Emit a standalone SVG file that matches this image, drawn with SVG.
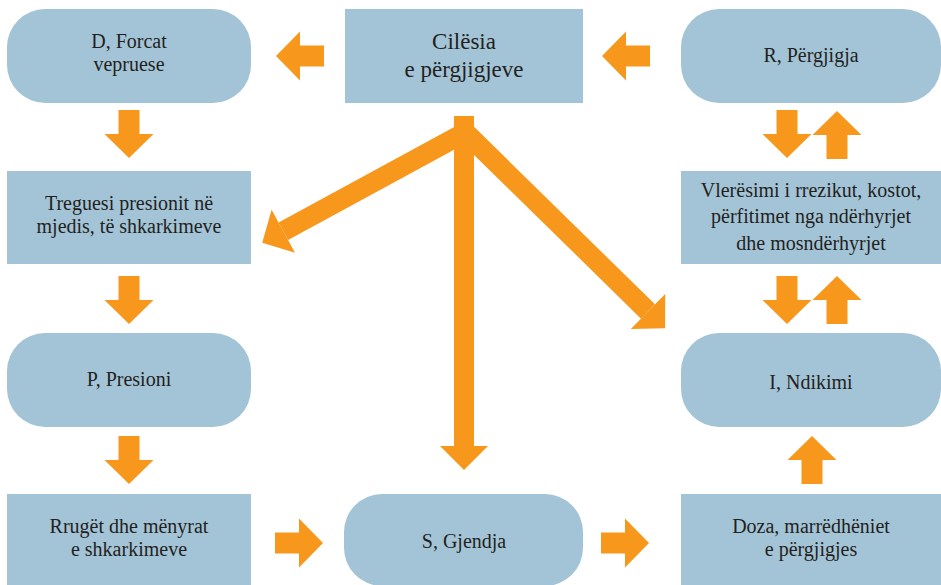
<svg xmlns="http://www.w3.org/2000/svg" width="941" height="585" viewBox="0 0 941 585">
<rect width="941" height="585" fill="#ffffff"/>
<g id="connectors" fill="#f7981d">
  <polygon points="324,45.5 300,45.5 300,31.5 276,56 300,80.5 300,66.5 324,66.5"/>
  <polygon points="650,45.5 626,45.5 626,31.5 602,56 626,80.5 626,66.5 650,66.5"/>
  <polygon points="118.5,110 139.5,110 139.5,134 153.5,134 129,158 104.5,134 118.5,134"/>
  <polygon points="118.5,276 139.5,276 139.5,300 153.5,300 129,324 104.5,300 118.5,300"/>
  <polygon points="118.5,436 139.5,436 139.5,460 153.5,460 129,484 104.5,460 118.5,460"/>
  <polygon points="776.5,110 797.5,110 797.5,134 811.5,134 787,158 762.5,134 776.5,134"/>
  <polygon points="776.5,276 797.5,276 797.5,300 811.5,300 787,324 762.5,300 776.5,300"/>
  <polygon points="826.5,159 847.5,159 847.5,135 861.5,135 837,111 812.5,135 826.5,135"/>
  <polygon points="826.5,324 847.5,324 847.5,300 861.5,300 837,276 812.5,300 826.5,300"/>
  <polygon points="801.5,484 822.5,484 822.5,460 836.5,460 812,436 787.5,460 801.5,460"/>
  <polygon points="275,532.5 299,532.5 299,518.5 323,543 299,567.5 299,553.5 275,553.5"/>
  <polygon points="601,532.5 625,532.5 625,518.5 649,543 625,567.5 625,553.5 601,553.5"/>
  <rect x="454" y="116" width="20" height="331"/>
  <polygon points="440,446 488,446 464,470"/>
  <line x1="464" y1="133" x2="283.3" y2="231.3" stroke="#f7981d" stroke-width="20"/>
  <polygon points="271.6,209.8 295,252.8 262.2,242.8"/>
  <line x1="464" y1="131" x2="648" y2="311.5" stroke="#f7981d" stroke-width="20"/>
  <polygon points="630.8,329 665.2,294 665.1,328.3"/>
</g>

<g id="D">
  <rect fill="#a3c4d7" x="7" y="9" width="244" height="94" rx="38" ry="38"/>
  <text font-family="Liberation Serif" font-size="20" fill="#231f20" text-anchor="middle" x="129" y="48">D, Forcat</text>
  <text font-family="Liberation Serif" font-size="20" fill="#231f20" text-anchor="middle" x="129" y="71">vepruese</text>
</g>
<g id="Cilesia">
  <rect fill="#a3c4d7" x="345" y="9" width="238" height="94"/>
  <text font-family="Liberation Serif" font-size="23" fill="#231f20" text-anchor="middle" x="464" y="49">Cilësia</text>
  <text font-family="Liberation Serif" font-size="23" fill="#231f20" text-anchor="middle" x="464" y="77">e përgjigjeve</text>
</g>
<g id="R">
  <rect fill="#a3c4d7" x="681" y="9" width="260" height="94" rx="38" ry="38"/>
  <text font-family="Liberation Serif" font-size="20" fill="#231f20" text-anchor="middle" x="811" y="62">R, Përgjigja</text>
</g>
<g id="Treguesi">
  <rect fill="#a3c4d7" x="7" y="171" width="244" height="93"/>
  <text font-family="Liberation Serif" font-size="20" fill="#231f20" text-anchor="middle" x="129" y="210">Treguesi presionit në</text>
  <text font-family="Liberation Serif" font-size="20" fill="#231f20" text-anchor="middle" x="129" y="233">mjedis, të shkarkimeve</text>
</g>
<g id="Vleresimi">
  <rect fill="#a3c4d7" x="681" y="171" width="260" height="93"/>
  <text font-family="Liberation Serif" font-size="20" fill="#231f20" text-anchor="middle" x="811" y="197">Vlerësimi i rrezikut, kostot,</text>
  <text font-family="Liberation Serif" font-size="20" fill="#231f20" text-anchor="middle" x="811" y="223">përfitimet nga ndërhyrjet</text>
  <text font-family="Liberation Serif" font-size="20" fill="#231f20" text-anchor="middle" x="811" y="250">dhe mosndërhyrjet</text>
</g>
<g id="P">
  <rect fill="#a3c4d7" x="7" y="333" width="244" height="94" rx="38" ry="38"/>
  <text font-family="Liberation Serif" font-size="20" fill="#231f20" text-anchor="middle" x="129" y="386">P, Presioni</text>
</g>
<g id="I">
  <rect fill="#a3c4d7" x="681" y="333" width="260" height="94" rx="38" ry="38"/>
  <text font-family="Liberation Serif" font-size="20" fill="#231f20" text-anchor="middle" x="811" y="389">I, Ndikimi</text>
</g>
<g id="Rruget">
  <rect fill="#a3c4d7" x="7" y="494" width="244" height="95"/>
  <text font-family="Liberation Serif" font-size="20" fill="#231f20" text-anchor="middle" x="129" y="533">Rrugët dhe mënyrat</text>
  <text font-family="Liberation Serif" font-size="20" fill="#231f20" text-anchor="middle" x="129" y="556">e shkarkimeve</text>
</g>
<g id="S">
  <rect fill="#a3c4d7" x="344" y="494" width="239" height="92" rx="38" ry="38"/>
  <text font-family="Liberation Serif" font-size="20" fill="#231f20" text-anchor="middle" x="464" y="548">S, Gjendja</text>
</g>
<g id="Doza">
  <rect fill="#a3c4d7" x="681" y="494" width="260" height="95"/>
  <text font-family="Liberation Serif" font-size="20" fill="#231f20" text-anchor="middle" x="811" y="533">Doza, marrëdhëniet</text>
  <text font-family="Liberation Serif" font-size="20" fill="#231f20" text-anchor="middle" x="811" y="556">e përgjigjes</text>
</g>
</svg>
